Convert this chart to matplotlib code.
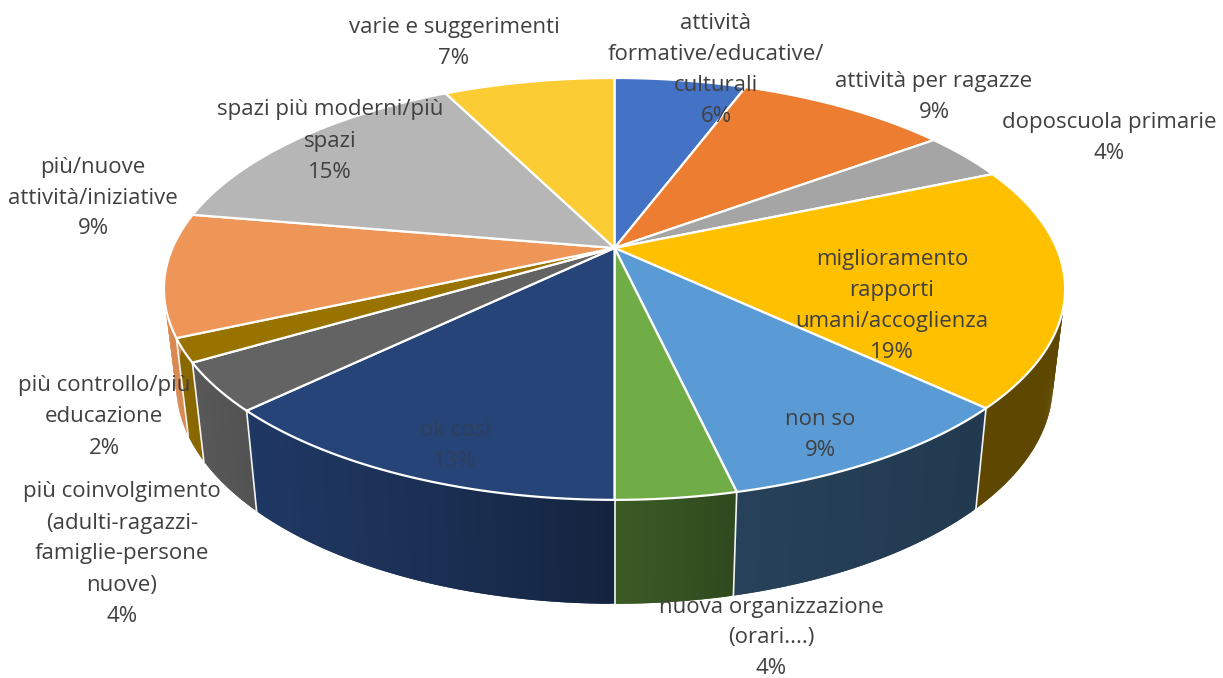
import numpy as np
import matplotlib
matplotlib.use("Agg")
import matplotlib.pyplot as plt
from matplotlib.colors import to_rgb

plt.rcParams['font.family'] = ['Open Sans', 'DejaVu Sans']

# dati del grafico (quota stimata dalla figura, etichetta come scritta nel grafico)
categorie = ["attività\nformative/educative/\nculturali", "attività per ragazze", "doposcuola primarie",
             "miglioramento\nrapporti\numani/accoglienza", "non so", "nuova organizzazione\n(orari....)",
             "ok così", "più coinvolgimento\n(adulti-ragazzi-\nfamiglie-persone\nnuove)",
             "più controllo/più\neducazione", "più/nuove\nattività/iniziative",
             "spazi più moderni/più\nspazi", "varie e suggerimenti"]
quote = [5.7, 9.2, 3.7, 18.4, 9.4, 3.6, 12.8, 3.7, 1.8, 9.4, 14.9, 7.4]
percentuali = [6, 9, 4, 19, 9, 4, 13, 4, 2, 9, 15, 7]

colori = ["#4472C4", "#ED7D31", "#A5A5A5", "#FFC000", "#5B9BD5", "#70AD47",
          "#264478", "#636363", "#997300", "#EE9558", "#B6B6B6", "#FBCC33"]

# posizione delle etichette (centro del blocco, in pixel)
pos_etichette = [(716, 70), (934, 97), (1109, 138), (892, 306), (820, 435), (771, 638),
                 (455, 446), (122, 554), (104, 417), (93, 198), (330, 141), (454, 43)]

# parametri della prospettiva
K = 0.194
A_TOP, B_TOP, CY_TOP = 442, 203, 248
A_BOT, B_BOT, CY_BOT = 430, 211, 342
CX = 614.5


def proietta(theta, a, b, cy):
    # cerchio unitario -> schermo, theta da ore 12 in senso orario
    X = np.sin(theta)
    Y = np.cos(theta)
    return CX + a*X/(1 + K*Y), cy - b*Y/(1 + K*Y)


def ombra(x):
    # la parete laterale si scurisce andando verso destra
    return np.interp(x, [165, 250, 450, 614, 740, 1000], [0.92, 0.83, 0.68, 0.53, 0.42, 0.37])


fig = plt.figure(figsize=(12.23, 6.78), dpi=100)
ax = fig.add_axes([0, 0, 1, 1])
ax.set_xlim(0, 1223)
ax.set_ylim(678, 0)
ax.axis("off")

bordi = 2*np.pi*np.cumsum([0] + quote)/sum(quote)

# pareti laterali: ogni striscia arriva fin sotto la successiva, cosi' non si vedono giunture
for i in range(len(quote)):
    th = np.linspace(bordi[i], bordi[i+1], max(int(quote[i]*8), 6))
    xt, yt = proietta(th, A_TOP, B_TOP, CY_TOP)
    xb, yb = proietta(th, A_BOT, B_BOT, CY_BOT)
    rgb = np.array(to_rgb(colori[i]))
    for j in range(len(th)-1):
        k = min(j+2, len(th)-1)
        c = rgb*ombra((xt[j] + xt[j+1])/2)
        ax.fill([xt[j], xt[j+1], xt[k], xb[k], xb[j+1], xb[j]],
                [yt[j], yt[j+1], yt[k], yb[k], yb[j+1], yb[j]],
                color=c, lw=0, zorder=1)

# separatori bianchi sulle pareti
for b in bordi[:-1]:
    xt, yt = proietta(b, A_TOP, B_TOP, CY_TOP)
    xb, yb = proietta(b, A_BOT, B_BOT, CY_BOT)
    ax.plot([xt, xb], [yt, yb], color="#f4f4f4", lw=1.2, zorder=2)

# faccia superiore
for i in range(len(quote)):
    th = np.linspace(bordi[i], bordi[i+1], 80)
    x, y = proietta(th, A_TOP, B_TOP, CY_TOP)
    ax.fill(np.r_[CX, x], np.r_[CY_TOP, y], facecolor=colori[i], edgecolor="white",
            lw=1.6, joinstyle="round", zorder=3)

# etichette
for i in range(len(quote)):
    righe = categorie[i].split("\n") + [f"{percentuali[i]}%"]
    xc, yc = pos_etichette[i]
    for j, r in enumerate(righe):
        ax.text(xc, yc + (j - (len(righe)-1)/2)*31, r, ha="center", va="center",
                fontsize=16, color="#404040" if i != 6 else "#2f3f5c", zorder=5)

fig.savefig("out.png", dpi=100)
